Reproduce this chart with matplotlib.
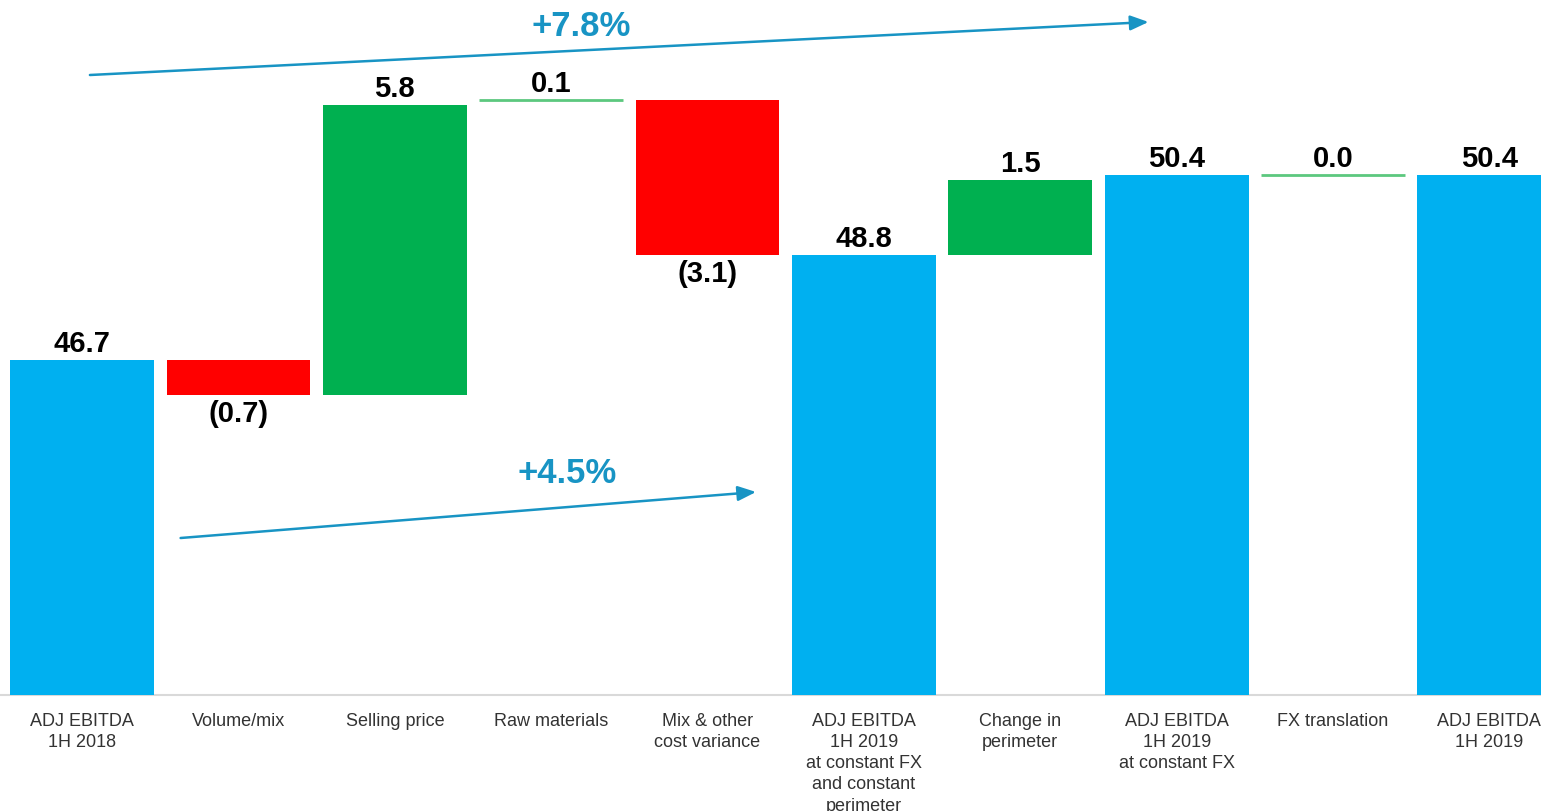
import matplotlib.pyplot as plt

plt.rcParams['font.family'] = ['Liberation Sans', 'DejaVu Sans']

# waterfall steps
categories = [
    "ADJ EBITDA\n1H 2018",
    "Volume/mix",
    "Selling price",
    "Raw materials",
    "Mix & other\ncost variance",
    "ADJ EBITDA\n1H 2019\nat constant FX\nand constant\nperimeter",
    "Change in\nperimeter",
    "ADJ EBITDA\n1H 2019\nat constant FX",
    "FX translation",
    "ADJ EBITDA\n1H 2019",
]
values = [46.7, -0.7, 5.8, 0.1, -3.1, 48.8, 1.5, 50.4, 0.0, 50.4]
is_total = [True, False, False, False, False, True, False, True, False, True]

# growth arrows: start, end, label text and label centre
growth_labels = ["+7.8%", "+4.5%"]
growth_start = [(0.05, 52.4), (0.63, 43.14)]
growth_end = [(6.82, 53.46), (4.31, 44.06)]
growth_text_at = [(3.19, 53.36), (3.10, 44.42)]

BLUE = "#00B0F0"
GREEN = "#00B050"
RED = "#FF0000"
TEAL = "#1894C4"
BASE = 40.0

fig = plt.figure(figsize=(15.41, 8.11), dpi=100)
ax = fig.add_axes([0, 0, 1, 1])
ax.set_xlim(-0.525, 9.33)
ax.set_ylim(37.68, 53.9)
ax.axis("off")

ax.axhline(BASE, color="#d9d9d9", lw=1.5, zorder=1)

w = 0.92
lbl = dict(fontsize=21, fontweight="bold", ha="center")
level = BASE
for i, (cat, v, tot) in enumerate(zip(categories, values, is_total)):
    if tot:
        ax.bar(i, v - BASE, bottom=BASE, width=w, color=BLUE, zorder=2)
        level = v
        ax.text(i, v + 0.04, f"{v:.1f}", va="bottom", **lbl)
    else:
        start, end = level, level + v
        top = max(start, end)
        if abs(v) < 0.2:
            ax.hlines(end, i - w / 2, i + w / 2, color="#5cc87e", lw=2, zorder=2)
            ax.text(i, end + 0.04, f"{v:.1f}", va="bottom", **lbl)
        elif v > 0:
            ax.bar(i, v, bottom=start, width=w, color=GREEN, zorder=2)
            ax.text(i, top + 0.04, f"{v:.1f}", va="bottom", **lbl)
        else:
            ax.bar(i, -v, bottom=end, width=w, color=RED, zorder=2)
            ax.text(i, end - 0.1, f"({-v:.1f})", va="top", **lbl)
        level = end
    ax.text(i, BASE - 0.36, cat, ha="center", va="top", fontsize=13,
            color="#333333", linespacing=1.32)

for lab, p0, p1, pt in zip(growth_labels, growth_start, growth_end, growth_text_at):
    ax.annotate("", xy=p1, xytext=p0,
                arrowprops=dict(arrowstyle="-|>,head_length=1.1,head_width=0.45",
                                color=TEAL, lw=1.8, shrinkA=0, shrinkB=0))
    ax.text(pt[0], pt[1], lab, ha="center", va="center",
            fontsize=25, fontweight="bold", color=TEAL)

fig.savefig("out.png", dpi=100)
